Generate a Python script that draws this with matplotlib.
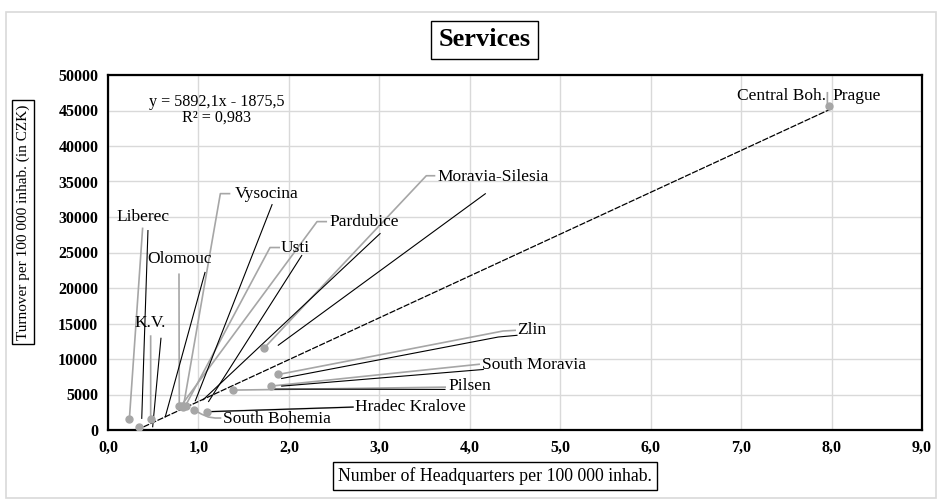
import matplotlib.pyplot as plt
import numpy as np
from matplotlib.patches import Rectangle

plt.rcParams['font.family'] = ['Liberation Serif', 'DejaVu Serif']

# data
regions = ['Prague', 'Central Boh.', 'Liberec', 'K.V.', 'Olomouc', 'Vysocina', 'Usti',
           'Pardubice', 'South Bohemia', 'Hradec Kralove', 'Pilsen', 'South Moravia',
           'Zlin', 'Moravia-Silesia']
headquarters = [7.975, 0.346, 0.236, 0.472, 0.788, 0.833, 0.858, 0.807, 0.954, 1.091,
                1.385, 1.799, 1.883, 1.728]
turnover = [45600, 470, 1500, 1500, 3370, 3270, 3450, 3400, 2810, 2570, 5620, 6180, 7820, 11560]

slope = 5892.1
intercept = -1875.5
r_squared = 0.983

x_ticks = [0, 1, 2, 3, 4, 5, 6, 7, 8, 9]
x_tick_labels = ['0,0', '1,0', '2,0', '3,0', '4,0', '5,0', '6,0', '7,0', '8,0', '9,0']
y_ticks = [0, 5000, 10000, 15000, 20000, 25000, 30000, 35000, 40000, 45000, 50000]

GREY = '#a6a6a6'
W, H = 941, 500

# label anchors (data coords) and leader routes (pixel offsets from the label anchor)
labels = {
    'Prague': (8.009, 47050, 'left'),
    'Central Boh.': (7.944, 47050, 'right'),
    'Liberec': (0.088, 30060, 'left'),
    'K.V.': (0.287, 15030, 'left'),
    'Olomouc': (0.431, 24020, 'left'),
    'Vysocina': (1.397, 33290, 'left'),
    'Usti': (1.913, 25700, 'left'),
    'Pardubice': (2.444, 29350, 'left'),
    'South Bohemia': (1.275, 1545, 'left'),
    'Hradec Kralove': (2.731, 3230, 'left'),
    'Pilsen': (3.759, 6180, 'left'),
    'South Moravia': (4.135, 9130, 'left'),
    'Zlin': (4.522, 14040, 'left'),
    'Moravia-Silesia': (3.641, 35670, 'left'),
}
grey_routes = {
    'Prague': [(-5, -4), (-5, 8)],
    'Central Boh.': None,
    'Liberec': [(26.7, 11)],
    'K.V.': [(16.7, 12)],
    'Olomouc': [(32, 14)],
    'Vysocina': [(-4, 0), (-14, 0)],
    'Usti': [(-1, 0), (-11, 0)],
    'Pardubice': [(-2, 0), (-12, 0)],
    'South Bohemia': [(-2, -1), (-8, -1), (-15, -2), (-22, -5)],
    'Hradec Kralove': [(-1, 0)],
    'Pilsen': [(-2, 1)],
    'South Moravia': [(-2, -1)],
    'Zlin': [(-1, 0), (-14, 0.7)],
    'Moravia-Silesia': [(-2, -1), (-11, -1)],
}
# second (black) leader layer: route near the label, offset near the point
black_routes = {
    'Liberec': ([(32, 14)], (12.4, -1)),
    'K.V.': ([(27, 15)], (2, 7.4)),
    'Olomouc': ([(58, 13)], (-14, 10.7)),
    'Vysocina': ([(37.7, 11)], (12, -6)),
    'Usti': ([(20.7, 8)], (23, -4)),
    'Pardubice': ([(51, 12)], (22, -6)),
    'Moravia-Silesia': ([(48, 17)], (14, -2.7)),
    'Zlin': ([(0, 5), (-18.7, 6.7)], (3.4, 4)),
    'South Moravia': ([(1.3, 4.3)], (11, 0)),
    'Pilsen': ([(-3, 3.3)], (37, -1)),
    'Hradec Kralove': ([(-2, 0)], (0, 0)),
}

fig = plt.figure(figsize=(W / 100, H / 100), dpi=100)
ax = fig.add_axes([108 / W, 70 / H, 814 / W, 355 / H])

PX = 9 / 814
PY = 50000 / 355


def shift(x, y, dx, dy):
    return x + dx * PX, y - dy * PY


ax.set_xlim(0, 9)
ax.set_ylim(0, 50000)
ax.set_xticks(x_ticks)
ax.set_xticklabels(x_tick_labels)
ax.set_yticks(y_ticks)
ax.set_yticklabels([str(v) for v in y_ticks])
ax.grid(True, color='#d9d9d9', lw=1)
ax.set_axisbelow(True)
ax.tick_params(length=0, labelsize=11.5, pad=7)
for lab in ax.get_xticklabels() + ax.get_yticklabels():
    lab.set_fontweight('bold')
for sp in ax.spines.values():
    sp.set_linewidth(1.6)
    sp.set_color('black')

# trendline
tx = np.array([min(headquarters), max(headquarters)])
ax.plot(tx, slope * tx + intercept, color='black', lw=0.9, dashes=(5, 1.2), zorder=3)

# leaders
for name, x, y in zip(regions, headquarters, turnover):
    lx, ly, ha = labels[name]
    route = grey_routes[name]
    if route:
        pts = [shift(lx, ly, dx, dy) for dx, dy in route] + [(x, y)]
        xs, ys = zip(*pts)
        ax.plot(xs, ys, color=GREY, lw=1.2, zorder=2, solid_capstyle='butt')
    if name in black_routes:
        top, low = black_routes[name]
        pts = [shift(lx, ly, dx, dy) for dx, dy in top] + [shift(x, y, *low)]
        xs, ys = zip(*pts)
        ax.plot(xs, ys, color='black', lw=0.8, zorder=3)
    ax.text(lx, ly, name, ha=ha, va='center', fontsize=12.5, zorder=5)

ax.plot(headquarters, turnover, 'o', color=GREY, ms=5, zorder=4)

ax.text(0.133, 0.924, 'y = 5892,1x - 1875,5', transform=ax.transAxes,
        ha='center', va='center', fontsize=11.6)
ax.text(0.133, 0.879, 'R² = 0,983', transform=ax.transAxes,
        ha='center', va='center', fontsize=11.6)

box = dict(boxstyle='square,pad=0.3', fc='white', ec='black', lw=1)
fig.text(484.5 / W, 1 - 40 / H, 'Services', ha='center', va='center',
         fontsize=19, fontweight='bold', bbox=box)
fig.text(495 / W, 1 - 476 / H, 'Number of Headquarters per 100 000 inhab.',
         ha='center', va='center', fontsize=12.8, bbox=box)
fig.text(23 / W, 1 - 222 / H, 'Turnover per 100 000 inhab. (in CZK)', rotation=90,
         ha='center', va='center', fontsize=11, bbox=box)

fig.patches.append(Rectangle((6 / W, 2 / H), 930 / W, 486 / H, transform=fig.transFigure,
                             fill=False, ec='#d9d9d9', lw=1.2))

fig.savefig('out.png', dpi=100)
